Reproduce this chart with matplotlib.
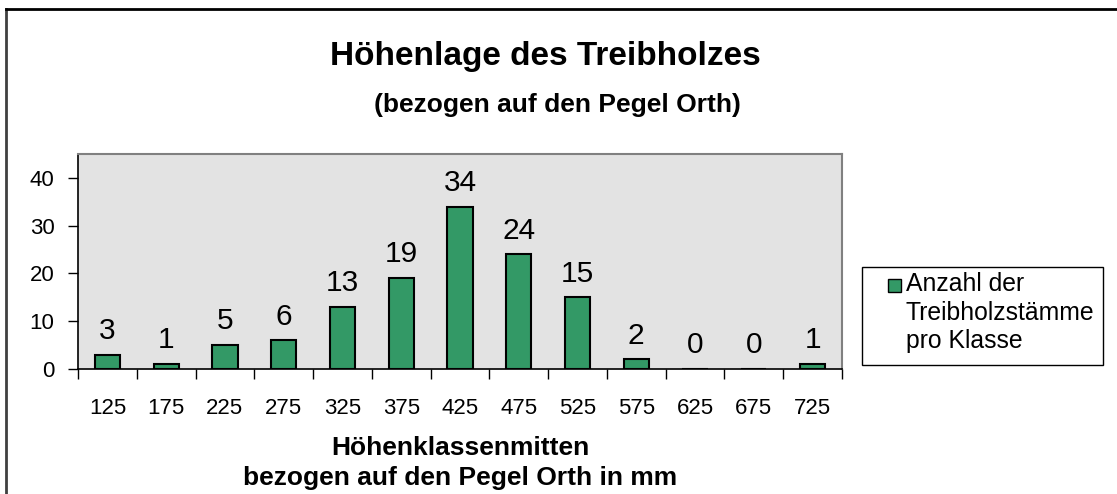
import matplotlib.pyplot as plt
from matplotlib.lines import Line2D
from matplotlib.patches import Rectangle
import numpy as np

plt.rcParams['font.family'] = ['Liberation Sans', 'DejaVu Sans']

klassen = ["125", "175", "225", "275", "325", "375", "425", "475", "525", "575", "625", "675", "725"]
anzahl = [3, 1, 5, 6, 13, 19, 34, 24, 15, 2, 0, 0, 1]
legend_lines = ["Anzahl der", "Treibholzstämme", "pro Klasse"]

W, H = 1117, 494
fig = plt.figure(figsize=(W / 100, H / 100), dpi=100)
ax = fig.add_axes([78 / W, 1 - 369 / H, (842 - 78) / W, (369 - 154) / H])

x = np.arange(len(klassen))
bars = ax.bar(x, anzahl, width=0.43, color="#339966", edgecolor="black", linewidth=1.5, zorder=3)
for xi, v in zip(x, anzahl):
    ax.annotate(str(v), (xi, v), xytext=(0, 7), textcoords="offset points",
                ha="center", va="bottom", fontsize=21.5)

ax.set_facecolor("#e3e3e3")
ax.set_xlim(-0.5, len(klassen) - 0.5)
ax.set_ylim(0, 45)
ax.set_yticks([0, 10, 20, 30, 40])
ax.set_xticks(x)
ax.set_xticklabels(klassen)
ax.set_xticks(np.arange(-0.5, len(klassen)), minor=True)
ax.tick_params(axis="x", which="major", length=0, pad=21, labelsize=16)
ax.tick_params(axis="x", which="minor", length=7, width=1, direction="out")
ax.tick_params(axis="y", length=7, width=1, direction="out", labelsize=16, pad=10)
for s in ["top", "right"]:
    ax.spines[s].set_color("#808080")
    ax.spines[s].set_linewidth(1.5)
for s in ["left", "bottom"]:
    ax.spines[s].set_color("black")
    ax.spines[s].set_linewidth(1.2)

ax.set_xlabel("Höhenklassenmitten\nbezogen auf den Pegel Orth in mm",
              fontsize=19, fontweight="bold", labelpad=12, linespacing=1.35)

fig.text(545 / W, 1 - 57 / H, "Höhenlage des Treibholzes", ha="center", va="center",
         fontsize=24, fontweight="bold")
fig.text(557 / W, 1 - 105 / H, "(bezogen auf den Pegel Orth)", ha="center", va="center",
         fontsize=19, fontweight="bold")

# legend box drawn by hand: the marker sits beside the first line
fig.add_artist(Rectangle((862 / W, 1 - 365 / H), (1103 - 862) / W, (365 - 267) / H,
                         facecolor="white", edgecolor="black", linewidth=1,
                         transform=fig.transFigure))
fig.add_artist(Rectangle((888 / W, 1 - 292 / H), 13 / W, 13 / H,
                         facecolor="#339966", edgecolor="black", linewidth=1,
                         transform=fig.transFigure))
for i, line in enumerate(legend_lines):
    fig.text(906 / W, 1 - (284 + 28.5 * i) / H, line, ha="left", va="center", fontsize=17.8)

# outer chart frame (only left and top visible)
fig.add_artist(Line2D([6 / W, 6 / W], [0, 1 - 9 / H], color="#404040", linewidth=2))
fig.add_artist(Line2D([6 / W, 1], [1 - 9 / H, 1 - 9 / H], color="black", linewidth=2))

fig.savefig("out.png", dpi=100)
